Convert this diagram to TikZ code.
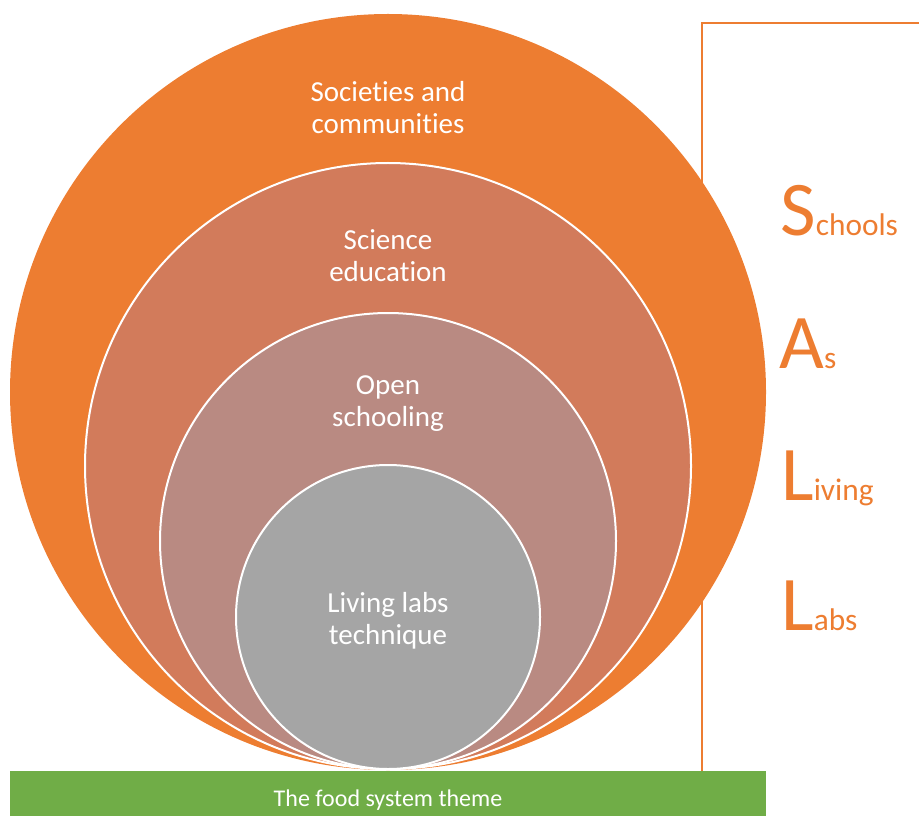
\documentclass[tikz,border=0pt]{standalone}
\usepackage{fontspec}
\setmainfont{Carlito}[Ligatures=NoCommon]
\definecolor{ringA}{HTML}{ED7D31}
\definecolor{ringB}{HTML}{D27B5B}
\definecolor{ringC}{HTML}{B98A82}
\definecolor{ringD}{HTML}{A5A5A5}
\definecolor{themegreen}{HTML}{70AD47}
\begin{document}
\begin{tikzpicture}[x=0.75pt,y=-0.75pt,
  ring/.style={circle,inner sep=0pt,draw=white,line width=1.5pt},
  label/.style={text=white,align=center,font=\fontsize{21.75}{24}\selectfont},
  acro/.style={text=ringA,anchor=base west,inner sep=0pt},
  bracket/.style={draw=ringA,line width=1.5pt}]
\useasboundingbox (0,0) rectangle (919,816);
% nested circles, all touching at the bottom
\node[ring,draw=none,fill=ringA,minimum size=756*0.75pt] (soc) at (388,392) {};
\node[ring,fill=ringB,minimum size=606*0.75pt] (sci) at (388,466) {};
\node[ring,fill=ringC,minimum size=456*0.75pt] (open) at (388,541) {};
\node[ring,fill=ringD,minimum size=304*0.75pt] (lab) at (388,617) {};
% circle labels
\node[label] (socT) at (388,108) {Societies and\\communities};
\node[label] (sciT) at (388,256) {Science\\education};
\node[label] (openT) at (388,404) {Open\\schooling};
\node[label] (labT) at (388,621) {Living labs\\technique};
% theme bar
\node[fill=themegreen,minimum width=756*0.75pt,minimum height=45*0.75pt,inner sep=0pt] (theme) at (388,793.5) {};
\node[text=white,inner sep=0pt,anchor=base,font=\fontsize{18}{22}\selectfont] (themeT) at (388,806) {The food system theme};
% bracket on the right
\coordinate (bTop) at (702,23);
\coordinate (bEnd) at (919,23);
\coordinate (bLow) at (702,771);
\draw[bracket] (bEnd) -- (bTop) -- (bLow);
% acronym
\newcommand{\bigL}[1]{{\fontsize{58}{64}\selectfont #1}}
\newcommand{\smallL}[1]{{\fontsize{23.5}{28}\selectfont #1}}
\node[acro] (sS) at (780,236) {\bigL{S}\smallL{chools}};
\node[acro] (sA) at (779,368) {\bigL{A}\smallL{s}};
\node[acro] (sL1) at (781,500) {\bigL{L}\smallL{iving}};
\node[acro] (sL2) at (781,630) {\bigL{L}\smallL{abs}};
\end{tikzpicture}
\end{document}
